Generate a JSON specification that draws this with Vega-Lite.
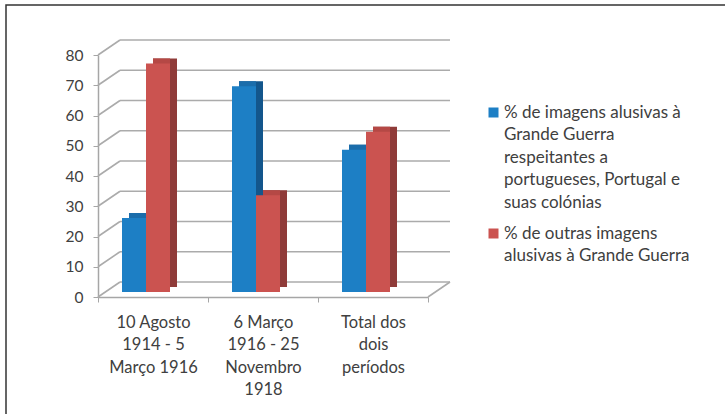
{
  "$schema": "https://vega.github.io/schema/vega-lite/v6.json",
  "width": 725,
  "height": 420,
  "autosize": {"type": "none"},
  "padding": {"left": 6, "top": 5, "right": 0, "bottom": 0},
  "background": "white",
  "config": {
    "view": {"stroke": "#333333", "strokeWidth": 1.5},
    "font": "Lato",
    "style": {"guide-label": {"lineHeight": 22.5}}
  },
  "datasets": {
    "bars": [
      {"periodo": "10 Agosto\n1914 - 5\nMarço  1916", "serie": "% de imagens alusivas à\nGrande Guerra\nrespeitantes a\nportugueses, Portugal e\nsuas colónias", "valor": 24.5},
      {"periodo": "10 Agosto\n1914 - 5\nMarço  1916", "serie": "% de outras imagens\nalusivas à Grande Guerra", "valor": 75.5},
      {"periodo": "6  Março\n1916 - 25\nNovembro\n1918", "serie": "% de imagens alusivas à\nGrande Guerra\nrespeitantes a\nportugueses, Portugal e\nsuas colónias", "valor": 68},
      {"periodo": "6  Março\n1916 - 25\nNovembro\n1918", "serie": "% de outras imagens\nalusivas à Grande Guerra", "valor": 32},
      {"periodo": "Total dos\ndois\nperíodos", "serie": "% de imagens alusivas à\nGrande Guerra\nrespeitantes a\nportugueses, Portugal e\nsuas colónias", "valor": 47},
      {"periodo": "Total dos\ndois\nperíodos", "serie": "% de outras imagens\nalusivas à Grande Guerra", "valor": 53}
    ],
    "grid": [{"v": 0}, {"v": 10}, {"v": 20}, {"v": 30}, {"v": 40}, {"v": 50}, {"v": 60}, {"v": 70}, {"v": 80}]
  },
  "layer": [
    {
      "data": {"name": "grid"},
      "mark": {"type": "rule", "color": "#ababab", "strokeWidth": 1.6, "xOffset": 22, "x2Offset": 22, "yOffset": -15},
      "encoding": {
        "x": {"datum": "10 Agosto\n1914 - 5\nMarço  1916", "type": "nominal", "bandPosition": 0,
              "scale": {"domain": ["10 Agosto\n1914 - 5\nMarço  1916", "6  Março\n1916 - 25\nNovembro\n1918", "Total dos\ndois\nperíodos"], "range": [92, 422], "paddingInner": 0, "paddingOuter": 0}, "axis": null},
        "x2": {"datum": "Total dos\ndois\nperíodos", "bandPosition": 1},
        "y": {"field": "v", "type": "quantitative", "scale": {"domain": [0, 80], "range": [292, 50]}, "axis": null}
      }
    },
    {
      "data": {"name": "grid"},
      "mark": {"type": "rule", "color": "#ababab", "strokeWidth": 1.6, "x2Offset": 22, "y2Offset": -15},
      "encoding": {
        "x": {"datum": "10 Agosto\n1914 - 5\nMarço  1916", "type": "nominal", "bandPosition": 0,
              "scale": {"domain": ["10 Agosto\n1914 - 5\nMarço  1916", "6  Março\n1916 - 25\nNovembro\n1918", "Total dos\ndois\nperíodos"], "range": [92, 422], "paddingInner": 0, "paddingOuter": 0}, "axis": null},
        "x2": {"datum": "10 Agosto\n1914 - 5\nMarço  1916", "bandPosition": 0},
        "y": {"field": "v", "type": "quantitative", "axis": null},
        "y2": {"field": "v"}
      }
    },
    {
      "data": {"name": "grid"},
      "transform": [{"filter": "datum.v == 0"}],
      "mark": {"type": "rule", "color": "#ababab", "strokeWidth": 1.6, "x2Offset": 22, "y2Offset": -15},
      "encoding": {
        "x": {"datum": "Total dos\ndois\nperíodos", "type": "nominal", "bandPosition": 1,
              "scale": {"domain": ["10 Agosto\n1914 - 5\nMarço  1916", "6  Março\n1916 - 25\nNovembro\n1918", "Total dos\ndois\nperíodos"], "range": [92, 422], "paddingInner": 0, "paddingOuter": 0}, "axis": null},
        "x2": {"datum": "Total dos\ndois\nperíodos", "bandPosition": 1},
        "y": {"field": "v", "type": "quantitative", "axis": null},
        "y2": {"field": "v"}
      }
    },
    {
      "data": {"name": "bars"},
      "mark": {"type": "bar", "yOffset": -10, "y2Offset": -10},
      "encoding": {
        "x": {"field": "periodo", "type": "nominal", "sort": null, "axis": null,
              "scale": {"domain": ["10 Agosto\n1914 - 5\nMarço  1916", "6  Março\n1916 - 25\nNovembro\n1918", "Total dos\ndois\nperíodos"], "range": [99, 429], "paddingInner": 0, "paddingOuter": 0}},
        "xOffset": {"field": "serie", "type": "nominal", "sort": null, "scale": {"range": [24, 72], "paddingInner": 0, "paddingOuter": 0}},
        "y": {"field": "valor", "type": "quantitative", "axis": null},
        "color": {"field": "serie", "type": "nominal", "sort": null, "legend": null, "scale": {"range": ["#13568c", "#8f3b39"]}}
      }
    },
    {
      "data": {"name": "bars"},
      "mark": {"type": "bar", "yOffset": -10, "y2Offset": -10},
      "encoding": {
        "x": {"field": "periodo", "type": "nominal", "sort": null, "axis": null,
              "scale": {"domain": ["10 Agosto\n1914 - 5\nMarço  1916", "6  Março\n1916 - 25\nNovembro\n1918", "Total dos\ndois\nperíodos"], "range": [99, 429], "paddingInner": 0, "paddingOuter": 0}},
        "xOffset": {"field": "serie", "type": "nominal", "sort": null, "scale": {"range": [24, 65], "paddingInner": 0.2917, "paddingOuter": 0}},
        "y": {"field": "valor", "type": "quantitative", "axis": null},
        "color": {"field": "serie", "type": "nominal", "sort": null, "legend": null, "scale": {"range": ["#1b6dab", "#b54845"]}}
      }
    },
    {
      "data": {"name": "bars"},
      "mark": {"type": "bar", "yOffset": -5, "y2Offset": -5},
      "encoding": {
        "x": {"field": "periodo", "type": "nominal", "sort": null,
              "scale": {"domain": ["10 Agosto\n1914 - 5\nMarço  1916", "6  Março\n1916 - 25\nNovembro\n1918", "Total dos\ndois\nperíodos"], "range": [92, 422], "paddingInner": 0, "paddingOuter": 0},
              "axis": {"orient": "bottom", "offset": -128, "title": null, "tickBand": "extent", "tickSize": 5, "labelAngle": 0,
                       "labelExpr": "split(datum.label, '\\n')", "labelPadding": 12, "labelFontSize": 16.5, "labelLineHeight": 22.5,
                       "labelColor": "#404040", "labelBaseline": "top", "domainColor": "#a6a6a6", "tickColor": "#a6a6a6", "domainWidth": 1.5, "labelLimit": 200}},
        "xOffset": {"field": "serie", "type": "nominal", "sort": null, "scale": {"range": [24, 72], "paddingInner": 0, "paddingOuter": 0}},
        "y": {"field": "valor", "type": "quantitative",
              "axis": {"orient": "left", "offset": -92, "values": [0, 10, 20, 30, 40, 50, 60, 70, 80], "grid": false, "title": null,
                       "domainColor": "#a6a6a6", "tickColor": "#a6a6a6", "domainWidth": 1.5, "tickSize": 5, "labelPadding": 10,
                       "labelFontSize": 15.5, "labelColor": "#404040"}},
        "color": {"field": "serie", "type": "nominal", "sort": null,
                  "scale": {"range": ["#1d7fc5", "#cb5350"]},
                  "legend": {"orient": "none", "legendX": 479, "legendY": 99, "title": null, "symbolType": "square", "symbolSize": 100,
                             "symbolStrokeWidth": 0, "labelFontSize": 17, "labelColor": "#404040", "labelExpr": "split(datum.label, '\\n')",
                             "labelLimit": 400, "rowPadding": 13, "labelOffset": 2, "padding": 0}}
      }
    }
  ],
  "resolve": {
    "scale": {"color": "independent", "x": "independent", "xOffset": "independent"},
    "axis": {"x": "independent", "y": "independent"}
  }
}
